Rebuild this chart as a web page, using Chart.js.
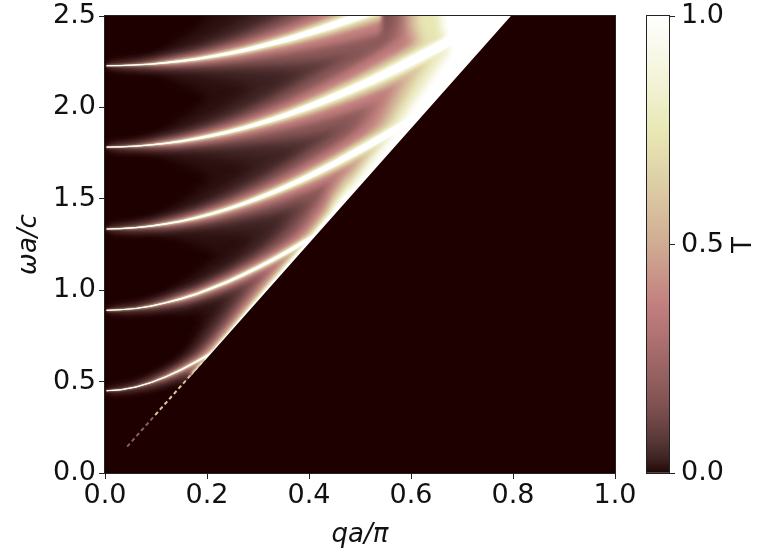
<!DOCTYPE html>
<html><head><meta charset="utf-8">
<style>
html,body{margin:0;padding:0;background:#fff;width:758px;height:556px;overflow:hidden}
#main{position:absolute;left:0;top:0}
#bar{position:absolute;left:625px;top:0}
</style>
<script src="https://cdn.jsdelivr.net/npm/chart.js@4"></script>
</head><body>
<canvas id="main" width="758" height="556"></canvas>
<canvas id="bar" width="133" height="556"></canvas>
<script>
// ---- axis values
const xTicks=[0,0.2,0.4,0.6,0.8,1.0];
const yTicks=[0,0.5,1.0,1.5,2.0,2.5];
const cbTicks=[0,0.5,1.0];
// ---- colormap (T -> colour)
const mapT=[0,0.008,0.03,0.08,0.15,0.2,0.3,0.365,0.5,0.6,0.746,0.85,1];
const mapC=['#1e0000','#2b0e0e','#3d2222','#5e3b3b','#805252','#915d5d','#b07272','#c27e7e','#d0ab93','#dac6a1','#e8e8b4','#f2f2d6','#ffffff'];
// ---- resonance ridges: q, omega, full width at half maximum (data units)
const ridgeQ=[.003,.03,.06,.09,.12,.15,.18,.21,.24,.27,.3,.33,.36,.39,.42,.45,.48,.51,.54,.57,.6,.63,.66,.69,.72,.75,.78];
const band1W=[.45,.455,.47,.495,.527,.566,.61,.657,.708,.762];
const band1L=[.001,.0015,.002,.0035,.006,.01,.013,.018,.023,.029];
const band2W=[.89,.893,.9,.913,.932,.954,.98,1.012,1.046,1.084,1.125,1.168,1.214,1.262,1.312,1.363];
const band2L=[.001,.0015,.002,.0035,.006,.01,.013,.018,.023,.029,.035,.042,.05,.058,.066,.075];
const band3W=[1.335,1.337,1.342,1.351,1.363,1.378,1.397,1.419,1.444,1.472,1.503,1.536,1.572,1.61,1.651,1.693,1.738,1.784,1.831,1.88,1.93,1.98,2.03];
const band3L=[.001,.002,.003,.0045,.008,.012,.017,.023,.029,.036,.044,.053,.062,.073,.084,.094,.106,.117,.129,.141,.154,.167,.18];
const band4W=[1.783,1.784,1.788,1.795,1.804,1.815,1.83,1.846,1.865,1.886,1.91,1.935,1.963,1.993,2.025,2.059,2.094,2.131,2.17,2.211,2.253,2.296,2.34,2.386,2.432,2.471,2.518];
const band4L=[.001,.002,.003,.005,.009,.014,.019,.026,.033,.041,.05,.06,.071,.083,.095,.107,.12,.133,.147,.16,.175,.19,.205,.22,.235,.25,.265];
const band5W=[2.228,2.229,2.232,2.237,2.245,2.254,2.265,2.279,2.294,2.311,2.331,2.352,2.374,2.399,2.425,2.453,2.482,2.513,2.546];
const band5L=[.001,.002,.003,.005,.009,.014,.019,.026,.033,.041,.05,.06,.071,.083,.095,.107,.12,.133,.147];
// ---- glow along the light line (lower and upper stretch)
const coneLowQ=[.17,.2,.25,.3,.35,.4,.45,.48];
const coneLowW=[.534,.628,.785,.942,1.1,1.257,1.414,1.508];
const coneLowL=[.01,.03,.05,.08,.1,.13,.2,.25];
const coneHighQ=[.45,.5,.55,.6,.65,.7,.75,.8,.85];
const coneHighW=[1.414,1.571,1.728,1.885,2.042,2.2,2.356,2.513,2.67];
const coneHighL=[.2,.3,.45,.75,1.05,1.4,2,3,4];
// ---- faint beaded start of the light line, and the bright top corner
const coneFaintA=[[.045,.141],[.1,.314]];
const coneFaintB=[[.1,.314],[.2,.628]];
const topCream=[[.6,2.7],[.6,2.42],[.64,2.3],[.9,2.2],[.9,2.7]];
const topWhite=[[.65,2.7],[.66,2.42],[.68,2.3],[.72,2.25],[.9,2.3],[.9,2.7]];
// ---- the empty region below the light line
const lightLine=[[0,0],[.8,2.513],[1.05,2.7],[1.05,-.1],[0,-.1]];
const frame=[[-.05,-.1],[1.05,-.1],[1.05,2.7],[-.05,2.7]];

const pts=a=>a.map(p=>({x:p[0],y:p[1]}));
const strip=(Q,W,L,m,base)=>{
  const up=W.map((w,i)=>({x:Q[i],y:w+(L[i]*m+base)/2}));
  const dn=W.map((w,i)=>({x:Q[i],y:w-(L[i]*m+base)/2})).reverse();
  return up.concat(dn);
};
const colorOf=t=>mapC[mapT.indexOf(t)];
const shape=(data,t,blur,tension)=>({type:'line',data,blur,backgroundColor:colorOf(t),borderColor:colorOf(t),borderWidth:0,fill:'shape',pointRadius:0,tension:tension||0});
const dashed=(data,t)=>({type:'line',data,borderColor:colorOf(t),borderWidth:4,borderDash:[4,3],fill:false,pointRadius:0,tension:0,blur:.4});
const bands=[[ridgeQ,band1W,band1L],[ridgeQ,band2W,band2L],[ridgeQ,band3W,band3L],[ridgeQ,band4W,band4L],[ridgeQ,band5W,band5L]];
const layer=(m,base,t,b,coneBlur)=>[
  shape(strip(coneLowQ,coneLowW,coneLowL,m,base),t,Math.max(b*1.6,.4),.2),
  shape(strip(coneHighQ,coneHighW,coneHighL,m,base),t,coneBlur,.2),
  ...bands.map(r=>shape(strip(r[0],r[1],r[2],m,base),t,b))];

const sets=[
  shape(pts(frame),0,0),
  ...layer(18,0,0.008,4,8),
  ...layer(9,0,0.03,6,8),
  ...layer(5,0,0.08,6,8),
  ...layer(3.6,0,0.15,5,8),
  ...layer(2.8,0,0.2,5,8),
  ...layer(2,0,0.3,3,8),
  ...layer(1.7,0,0.365,3,7),
  ...layer(1.1,0,0.5,2,7),
  ...layer(.85,0,0.6,1.5,6),
  shape(pts(topCream),0.746,8),
  ...layer(.58,.004,0.746,1,5),
  ...layer(.42,.005,0.85,.7,4),
  shape(pts(topWhite),1,4),
  ...layer(.28,.006,1,.4,3),
  dashed(pts(coneFaintA),0.2),
  dashed(pts(coneFaintB),0.6),
  shape(pts(lightLine),0,0)
];
sets.forEach((d,i)=>{d.order=-i;});

const blurPlugin={id:'blurLayer',
  beforeDatasetDraw(c,a){const b=c.data.datasets[a.index].blur;if(b){c.ctx.save();c.ctx.filter='blur('+b+'px)';}},
  afterDatasetDraw(c,a){if(c.data.datasets[a.index].blur){c.ctx.restore();}}
};
const filler=Chart.registry.plugins.get('filler');
Chart.unregister(filler);Chart.register(blurPlugin);Chart.register(filler);

const boxPlugin={id:'box',afterDraw(c){const a=c.chartArea,x=c.ctx;x.save();x.strokeStyle='#222';x.lineWidth=1;x.strokeRect(a.left-.5,a.top-.5,a.right-a.left+1,a.bottom-a.top+1);x.restore();}};
const FONT='"DejaVu Sans"';
const tickOpts={color:'#111',font:{family:FONT,size:27},maxRotation:0,autoSkip:false};
const axisGrid={display:true,drawOnChartArea:false,drawTicks:true,tickLength:6,color:'#222',lineWidth:1};
const noPad=s=>{s.paddingTop=0;s.paddingBottom=0;s.paddingLeft=0;s.paddingRight=0;};

new Chart(document.getElementById('main'),{
  type:'scatter',
  data:{datasets:sets},
  options:{responsive:false,animation:false,events:[],
    layout:{padding:{left:14,top:16,right:143,bottom:5}},
    plugins:{legend:{display:false},tooltip:{enabled:false}},
    scales:{
      x:{type:'linear',min:0,max:1,
        afterBuildTicks(s){s.ticks=xTicks.map(v=>({value:v}));},
        afterFit(s){s.height=78;noPad(s);},
        ticks:{...tickOpts,padding:1,callback:v=>v.toFixed(1)},
        grid:axisGrid,border:{display:true,color:'#222'},
        title:{display:true,text:'qa/π',color:'#111',font:{family:FONT,size:26,style:'italic'},padding:{top:0,bottom:0}}},
      y:{type:'linear',min:0,max:2.5,
        afterBuildTicks(s){s.ticks=yTicks.map(v=>({value:v}));},
        afterFit(s){s.width=91;noPad(s);},
        ticks:{...tickOpts,padding:3,callback:v=>v.toFixed(1)},
        grid:axisGrid,border:{display:true,color:'#222'},
        title:{display:true,text:'ωa/c',color:'#111',font:{family:FONT,size:26,style:'italic'},padding:{top:0,bottom:0}}}
    }
  },
  plugins:[boxPlugin]
});

const cbLabel={id:'cbLabel',afterDraw(c){const x=c.ctx;x.save();x.translate(119,245);x.rotate(-Math.PI/2);x.font='26px '+FONT;x.fillStyle='#111';x.textAlign='center';x.textBaseline='middle';x.fillText('T',0,0);x.restore();}};
new Chart(document.getElementById('bar'),{
  type:'bar',
  data:{labels:['T'],datasets:[{data:[[0,1]],barPercentage:1,categoryPercentage:1,borderWidth:0,
    backgroundColor(ctx){const a=ctx.chart.chartArea;if(!a)return mapC[0];
      const g=ctx.chart.ctx.createLinearGradient(0,a.bottom,0,a.top);
      mapT.forEach((t,i)=>g.addColorStop(t,mapC[i]));return g;}}]},
  options:{responsive:false,animation:false,events:[],
    layout:{padding:{left:22,top:16,right:0,bottom:83}},
    plugins:{legend:{display:false},tooltip:{enabled:false}},
    scales:{
      x:{display:false},
      y:{position:'right',min:0,max:1,
        afterBuildTicks(s){s.ticks=cbTicks.map(v=>({value:v}));},
        afterFit(s){s.width=89;noPad(s);},
        ticks:{...tickOpts,padding:6,callback:v=>v.toFixed(1)},
        grid:axisGrid,border:{display:true,color:'#222'}}
    }
  },
  plugins:[boxPlugin,cbLabel]
});
</script>
</body></html>
